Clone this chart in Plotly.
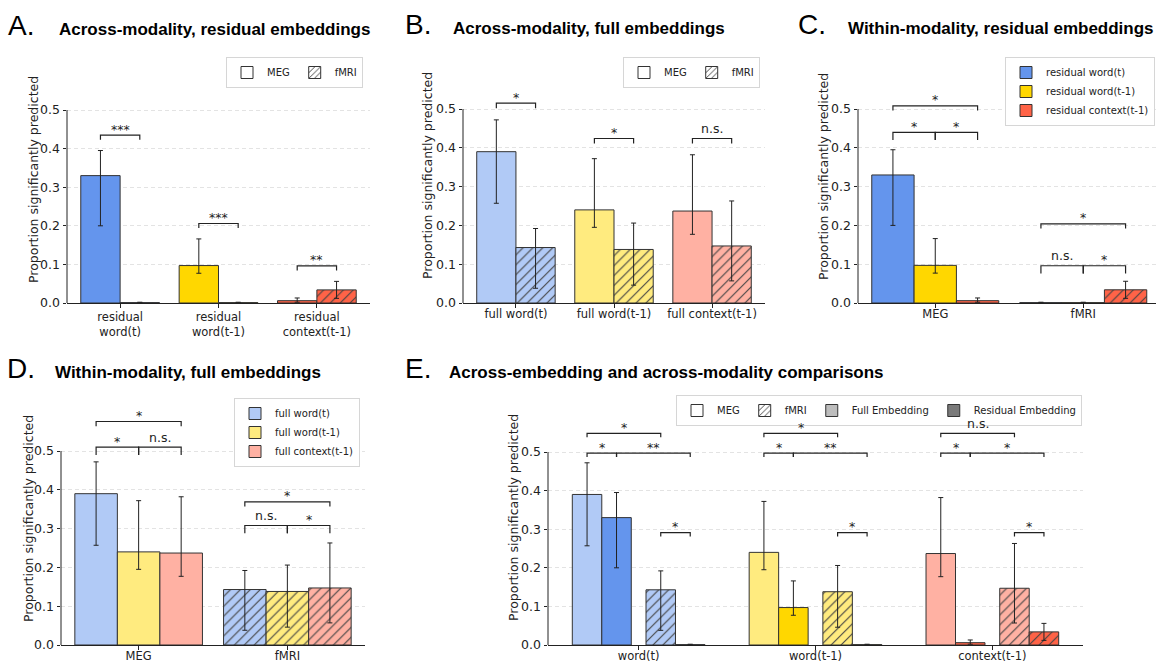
import plotly.graph_objects as go

W, H = 1156, 664

# ---------------- data ----------------
res_cat_labels = ["residual<br>word(t)", "residual<br>word(t-1)", "residual<br>context(t-1)"]
full_cat_labels = ["full word(t)", "full word(t-1)", "full context(t-1)"]
res_names = ["residual word(t)", "residual word(t-1)", "residual context(t-1)"]
full_names = ["full word(t)", "full word(t-1)", "full context(t-1)"]
modalities = ["MEG", "fMRI"]
emb_groups = ["word(t)", "word(t-1)", "context(t-1)"]
emb_types = ["Full Embedding", "Residual Embedding"]
y_ticks = [0.0, 0.1, 0.2, 0.3, 0.4, 0.5]

# residual embeddings (value, CI low, CI high) per embedding
res_meg = [0.330, 0.097, 0.006]
res_meg_lo = [0.200, 0.077, 0.002]
res_meg_hi = [0.395, 0.166, 0.013]
res_fmri = [0.001, 0.001, 0.034]
res_fmri_lo = [0.000, 0.000, 0.012]
res_fmri_hi = [0.002, 0.002, 0.056]

# full embeddings
full_meg = [0.390, 0.240, 0.237]
full_meg_lo = [0.257, 0.195, 0.177]
full_meg_hi = [0.472, 0.372, 0.382]
full_fmri = [0.143, 0.138, 0.147]
full_fmri_lo = [0.038, 0.046, 0.057]
full_fmri_hi = [0.192, 0.206, 0.263]

# significance annotations
sig_A_y = [0.435, 0.206, 0.096]
sig_A_txt = ["***", "***", "**"]
sig_B_y = [0.515, 0.424, 0.424]
sig_B_txt = ["*", "*", "n.s."]
# C / D : per modality [lower, upper] heights; texts for pairs (0,1), (1,2), (0,2)
sig_C_y = [[0.440, 0.508], [0.096, 0.204]]
sig_C_txt = [["*", "*", "*"], ["n.s.", "*", "*"]]
sig_D_y = [[0.510, 0.576], [0.308, 0.369]]
sig_D_txt = [["*", "n.s.", "*"], ["n.s.", "*", "*"]]
# E : heights [upper, lower, small]; texts per group:
# (fullMEG-fullfMRI), (fullMEG-resMEG), (resMEG-resfMRI), (fullfMRI-resfMRI)
sig_E_y = [0.548, 0.497, 0.291]
sig_E_txt = [["*", "*", "**", "*"], ["*", "*", "**", "*"], ["n.s.", "*", "*", "*"]]

# ---------------- style ----------------
res_colors = ["#6495ED", "#FFD700", "#FF6347"]
full_colors = ["#B1CAF6", "#FFEB7F", "#FFB1A3"]
EDGE = "#333333"
INK = "#222222"
FONT = "DejaVu Sans"
TFONT = "Liberation Sans"

panels = {
    "A": dict(ax="", px=(67, 370), xr=(-0.54, 2.54), y0=303, ppu=386, ymax=0.6, lab=0),
    "B": dict(ax="2", px=(463, 765), xr=(-0.54, 2.54), y0=303, ppu=388, ymax=0.6, lab=-3),
    "C": dict(ax="3", px=(858, 1156), xr=(-0.522, -0.522 + 298 / 148.0), y0=303, ppu=388, ymax=0.6, lab=-3),
    "D": dict(ax="4", px=(61, 365), xr=(-0.522, 1.522), y0=645, ppu=388, ymax=0.65, lab=-3),
    "E": dict(ax="5", px=(548, 1083), xr=(-0.5125, 2.5125), y0=645, ppu=386, ymax=0.6, lab=-3),
}

fig = go.Figure()


def axes(p):
    return "x" + p["ax"], "y" + p["ax"]


def add_bars(p, xs, ys, lo, hi, width, colors, hatch=False, hatch_color=INK):
    xa, ya = axes(p)
    marker = dict(color=colors, line=dict(color=EDGE, width=1))
    if hatch:
        marker["pattern"] = dict(shape="/", fgcolor=hatch_color, fgopacity=1,
                                 size=7, solidity=0.16, fillmode="overlay")
    fig.add_trace(go.Bar(
        x=xs, y=ys, width=width, xaxis=xa, yaxis=ya, marker=marker,
        error_y=dict(type="data", symmetric=False,
                     array=[h - v for h, v in zip(hi, ys)],
                     arrayminus=[v - l for v, l in zip(ys, lo)],
                     color=INK, thickness=1, width=2.5),
        showlegend=False, hoverinfo="skip"))


def add_legend_item(p, legend, name, color, hatch=False, hatch_color=INK):
    xa, ya = axes(p)
    marker = dict(color=color, line=dict(color=EDGE, width=1))
    if hatch:
        marker["pattern"] = dict(shape="/", fgcolor=hatch_color, fgopacity=1,
                                 size=5, solidity=0.2, fillmode="overlay")
    fig.add_trace(go.Bar(x=[None], y=[None], xaxis=xa, yaxis=ya, name=name,
                         marker=marker, legend=legend, showlegend=True, hoverinfo="skip"))


def bracket(p, x1, x2, y, drop, text):
    xa, ya = axes(p)
    fig.add_shape(type="path", xref=xa, yref=ya,
                  path=f"M {x1},{y - drop} L {x1},{y} L {x2},{y} L {x2},{y - drop}",
                  line=dict(color=INK, width=1.2))
    if text:
        fig.add_annotation(x=(x1 + x2) / 2, y=y, xref=xa, yref=ya, text=text,
                           showarrow=False, yanchor="middle",
                           yshift=10 if text == "n.s." else 6,
                           font=dict(family=FONT, size=12.5, color=INK))


# ---- Panel A ----
p = panels["A"]
gx = list(range(3))
add_bars(p, [g - 0.2 for g in gx], res_meg, res_meg_lo, res_meg_hi, 0.4, res_colors)
add_bars(p, [g + 0.2 for g in gx], res_fmri, res_fmri_lo, res_fmri_hi, 0.4, res_colors, hatch=True)
for g in gx:
    bracket(p, g - 0.2, g + 0.2, sig_A_y[g], 0.012, sig_A_txt[g])
add_legend_item(p, "legend", modalities[0], "white")
add_legend_item(p, "legend", modalities[1], "white", hatch=True)

# ---- Panel B ----
p = panels["B"]
add_bars(p, [g - 0.2 for g in gx], full_meg, full_meg_lo, full_meg_hi, 0.4, full_colors)
add_bars(p, [g + 0.2 for g in gx], full_fmri, full_fmri_lo, full_fmri_hi, 0.4, full_colors,
         hatch=True, hatch_color="#8c8c8c")
for g in gx:
    bracket(p, g - 0.2, g + 0.2, sig_B_y[g], 0.013, sig_B_txt[g])
add_legend_item(p, "legend2", modalities[0], "white")
add_legend_item(p, "legend2", modalities[1], "white", hatch=True)

# ---- Panel C & D ----
wc = 0.286
for key, vals_m, lo_m, hi_m, vals_f, lo_f, hi_f, cols, names, sy, st, leg, hc in [
    ("C", res_meg, res_meg_lo, res_meg_hi, res_fmri, res_fmri_lo, res_fmri_hi,
     res_colors, res_names, sig_C_y, sig_C_txt, "legend3", INK),
    ("D", full_meg, full_meg_lo, full_meg_hi, full_fmri, full_fmri_lo, full_fmri_hi,
     full_colors, full_names, sig_D_y, sig_D_txt, "legend4", "#8c8c8c"),
]:
    p = panels[key]
    for k in range(3):
        off = (k - 1) * wc
        add_bars(p, [0 + off], [vals_m[k]], [lo_m[k]], [hi_m[k]], wc, [cols[k]])
        add_bars(p, [1 + off], [vals_f[k]], [lo_f[k]], [hi_f[k]], wc, [cols[k]],
                 hatch=True, hatch_color=hc)
        add_legend_item(p, leg, names[k], cols[k])
    for m in range(2):
        low, up = sy[m]
        bracket(p, m - wc, m, low, 0.02, st[m][0])
        bracket(p, m, m + wc, low, 0.02, st[m][1])
        bracket(p, m - wc, m + wc, up, 0.012, st[m][2])

# ---- Panel E ----
p = panels["E"]
we = 1 / 6.0
offs = [-0.2917, -0.125, 0.125, 0.2917]
add_bars(p, [g + offs[0] for g in gx], full_meg, full_meg_lo, full_meg_hi, we, full_colors)
add_bars(p, [g + offs[1] for g in gx], res_meg, res_meg_lo, res_meg_hi, we, res_colors)
add_bars(p, [g + offs[2] for g in gx], full_fmri, full_fmri_lo, full_fmri_hi, we, full_colors,
         hatch=True, hatch_color="#8c8c8c")
add_bars(p, [g + offs[3] for g in gx], res_fmri, res_fmri_lo, res_fmri_hi, we, res_colors, hatch=True)
for g in gx:
    t = sig_E_txt[g]
    bracket(p, g + offs[0], g + offs[2], sig_E_y[0], 0.01, t[0])
    bracket(p, g + offs[0], g + offs[1], sig_E_y[1], 0.01, t[1])
    bracket(p, g + offs[1], g + offs[3], sig_E_y[1], 0.01, t[2])
    bracket(p, g + offs[2], g + offs[3], sig_E_y[2], 0.01, t[3])
add_legend_item(p, "legend5", modalities[0], "white")
add_legend_item(p, "legend5", modalities[1], "white", hatch=True)
add_legend_item(p, "legend5", emb_types[0], "#bdbdbd")
add_legend_item(p, "legend5", emb_types[1], "#7a7a7a")

# ---------------- axes ----------------
xt = {"A": (gx, res_cat_labels), "B": (gx, full_cat_labels), "C": ([0, 1], modalities),
      "D": ([0, 1], modalities), "E": (gx, emb_groups)}
layout = {}
for key, p in panels.items():
    x0, x1 = p["px"]
    xd = [x0 / W, min(x1 / W, 1.0)]
    yd = [1 - p["y0"] / H, 1 - (p["y0"] - p["ymax"] * p["ppu"]) / H]
    xa, ya = axes(p)
    layout["xaxis" + p["ax"]] = dict(
        domain=xd, range=list(p["xr"]), anchor=ya, tickvals=xt[key][0], ticktext=xt[key][1],
        showline=True, linecolor=INK, linewidth=1, ticks="outside", ticklen=3.5,
        tickcolor=INK, tickwidth=0.8, showgrid=False, zeroline=False, automargin=False,
        ticklabelstandoff=p["lab"],
        tickfont=dict(family=FONT, size=11.5, color=INK), fixedrange=True)
    layout["yaxis" + p["ax"]] = dict(
        domain=yd, range=[0, p["ymax"]], anchor=xa, tickvals=y_ticks,
        ticktext=[f"{v:.1f}" for v in y_ticks], showline=False, ticks="outside",
        ticklen=3.5, tickcolor=INK, tickwidth=0.8, showgrid=True, gridcolor="#e3e3e3",
        griddash="4px,3px", gridwidth=1, zeroline=False, automargin=False,
        tickfont=dict(family=FONT, size=12.5, color=INK), fixedrange=True)
    # left spine only from 0 to 0.5
    fig.add_shape(type="line", xref=xa + " domain", yref=ya + " domain",
                  x0=0, x1=0, y0=0, y1=0.5 / p["ymax"], line=dict(color=INK, width=1))

fig.update_layout(**layout)

# ---------------- titles / labels ----------------
titles = [
    ("A.", 8, 59, 35, "Across-modality, residual embeddings"),
    ("B.", 405, 453, 34, "Across-modality, full embeddings"),
    ("C.", 798, 848, 34, "Within-modality, residual embeddings"),
    ("D.", 7, 55, 378, "Within-modality, full embeddings"),
    ("E.", 405, 449, 378, "Across-embedding and across-modality comparisons"),
]
for letter, lx, tx, base, text in titles:
    fig.add_annotation(x=(lx - 2) / W, y=1 - (base - 0.347 * 28) / H, xref="paper", yref="paper",
                       text=letter, showarrow=False, xanchor="left", yanchor="middle",
                       font=dict(family=TFONT, size=28, color="black"))
    fig.add_annotation(x=(tx - 2) / W, y=1 - (base - 0.347 * 17) / H, xref="paper", yref="paper",
                       text=f"<b>{text}</b>", showarrow=False, xanchor="left", yanchor="middle",
                       font=dict(family=TFONT, size=17, color="black"))

ylab_pos = [(33, 180), (428, 176), (823, 177), (28, 519), (513, 518)]
for xpx, ypx in ylab_pos:
    fig.add_annotation(x=xpx / W, y=1 - ypx / H, xref="paper", yref="paper",
                       text="Proportion significantly predicted", textangle=-90,
                       showarrow=False, xanchor="center", yanchor="middle",
                       font=dict(family=FONT, size=12.5, color=INK))

legend_style = dict(bgcolor="white", bordercolor="#d6d6d6", borderwidth=1,
                    font=dict(family=FONT, size=10, color=INK),
                    xanchor="right", yanchor="top", xref="paper", yref="paper")
fig.update_layout(
    legend=dict(x=363 / W, y=1 - 57 / H, orientation="h", **legend_style),
    legend2=dict(x=760 / W, y=1 - 57 / H, orientation="h", **legend_style),
    legend3=dict(x=1155 / W, y=1 - 57 / H, orientation="v", **legend_style),
    legend4=dict(x=360 / W, y=1 - 398 / H, orientation="v", **legend_style),
    legend5=dict(x=1082 / W, y=1 - 395 / H, orientation="h", **legend_style),
)

fig.update_layout(width=W, height=H, margin=dict(l=0, r=0, t=0, b=0, autoexpand=False),
                  paper_bgcolor="white", plot_bgcolor="white", barmode="overlay",
                  showlegend=True, font=dict(family=FONT, color=INK))

fig.write_html("out.html", config={"displayModeBar": False},
               post_script="document.body.style.margin='0';document.body.style.overflow='hidden';")
